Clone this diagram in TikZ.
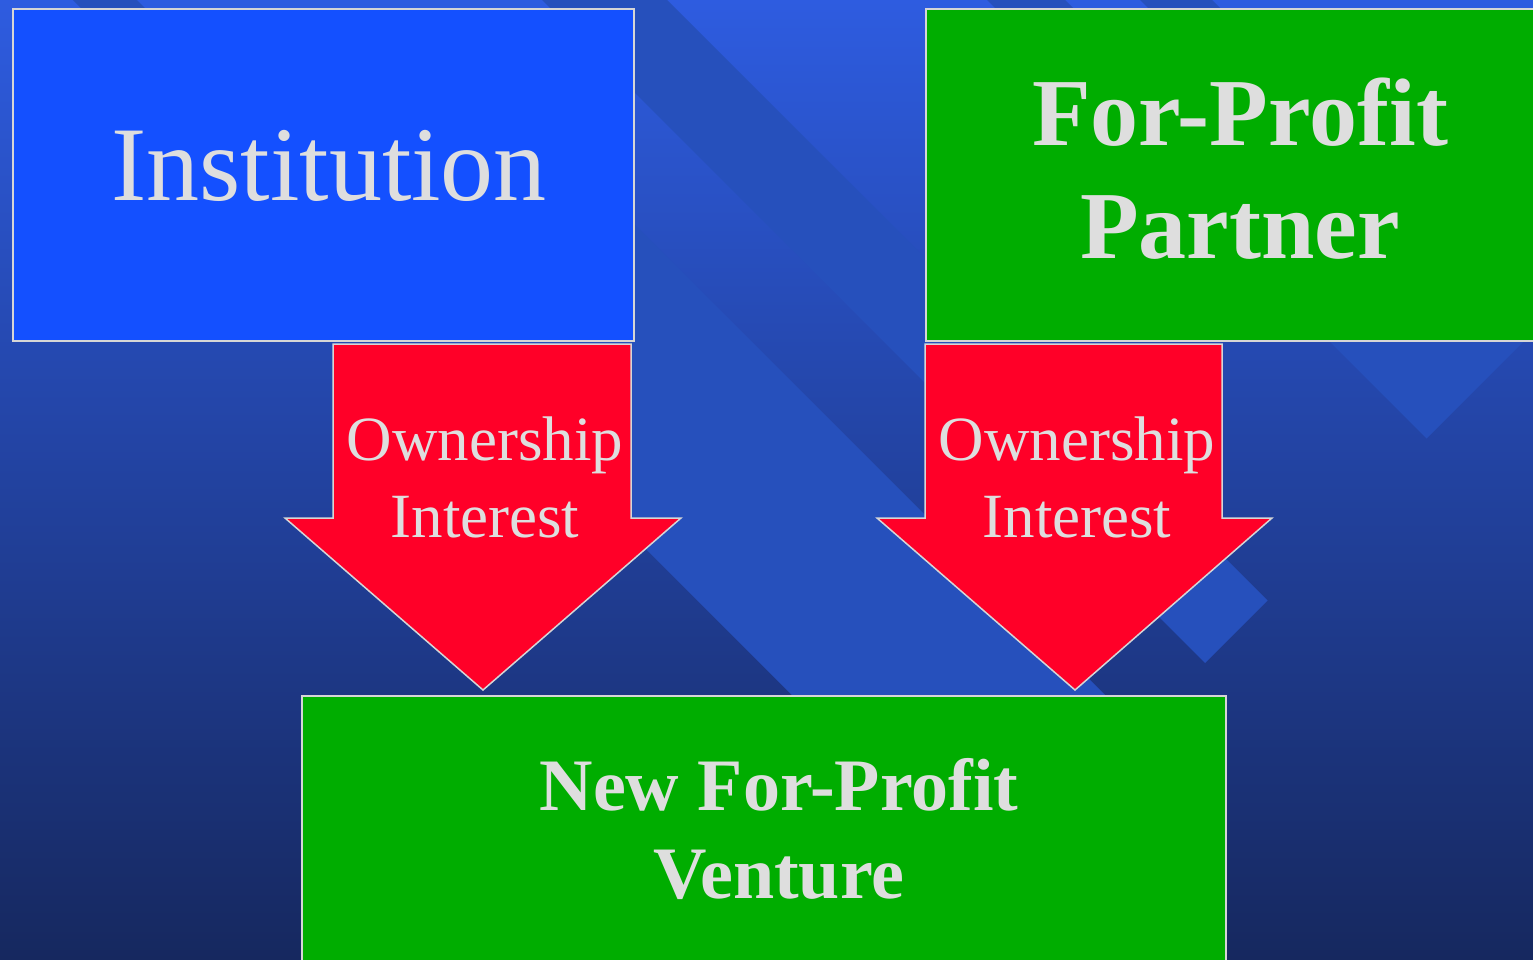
\documentclass[tikz,border=0pt]{standalone}
\usepackage{fontspec}
\setmainfont{Liberation Serif}
\definecolor{bgtop}{HTML}{2E5CE0}
\definecolor{bgbot}{HTML}{16285F}
\definecolor{bandc}{HTML}{2650BC}
\definecolor{instblue}{HTML}{1450FF}
\definecolor{boxgreen}{HTML}{00AD00}
\definecolor{arrowred}{HTML}{FF0028}
\definecolor{edgegray}{HTML}{D6D6D6}
\definecolor{txtgray}{HTML}{DEDEDE}
\begin{document}
\begin{tikzpicture}[x=1pt,y=-1pt,
  boxnode/.style={draw=edgegray,line width=1.5pt,inner sep=0pt,anchor=north west},
  blockarrow/.style={draw=edgegray,line width=1.5pt,fill=arrowred,line join=miter},
  lbl/.style={text=txtgray,inner sep=0pt,align=center}]
\useasboundingbox (0,0) rectangle (1533,959);
\begin{scope}
  \clip (0,0) rectangle (1533,959);
  \shade[top color=bgtop,bottom color=bgbot] (0,0) rectangle (1533,959);
  % diagonal bands of the background
  \fill[bandc] (532,-10) -- (657,-10) -- (1267.5,600.5) -- (1205,663) -- cycle;
  \fill[bandc] (348.5,251.5) -- (505,95) -- (1138,728) -- (981.5,884.5) -- cycle;
  \fill[bandc] (1138,150) -- (1715,150) -- (1426.5,438.5) -- cycle;
  \fill[bandc] (63,-10) -- (127,-10) -- (237,100) -- (173,100) -- cycle;
  \fill[bandc] (977,-10) -- (1055,-10) -- (1165,100) -- (1087,100) -- cycle;
  \fill[bandc] (1130,-10) -- (1202,-10) -- (1312,100) -- (1240,100) -- cycle;
\end{scope}
% boxes
\node[boxnode,fill=instblue,minimum width=621pt,minimum height=332pt] (inst) at (12,8) {};
\node[boxnode,fill=boxgreen,minimum width=640pt,minimum height=332pt] (partner) at (925,8) {};
\node[boxnode,fill=boxgreen,minimum width=924pt,minimum height=290pt] (venture) at (301,695) {};
% block arrows
\draw[blockarrow] (333,344) -- (631,344) -- (631,518) -- (681,518) -- (483,690) -- (285,518) -- (333,518) -- cycle;
\draw[blockarrow] (925,344) -- (1222,344) -- (1222,518) -- (1272,518) -- (1075,690) -- (877,518) -- (925,518) -- cycle;
% texts (base anchor = baseline of the last line)
\node[lbl,anchor=base,font=\fontsize{106}{106}\selectfont] (tinst) at (329,200) {Institution};
\node[lbl,anchor=base,font=\bfseries\fontsize{96}{113}\selectfont] (tpart) at (1240,258) {For-Profit\\Partner};
\node[lbl,anchor=base,font=\bfseries\fontsize{74}{88}\selectfont] (tvent) at (779,898) {New For-Profit\\Venture};
\node[lbl,anchor=base,font=\fontsize{63}{77}\selectfont] (own1) at (485,537) {Ownership\\Interest};
\node[lbl,anchor=base,font=\fontsize{63}{77}\selectfont] (own2) at (1077,537) {Ownership\\Interest};
\end{tikzpicture}
\end{document}
